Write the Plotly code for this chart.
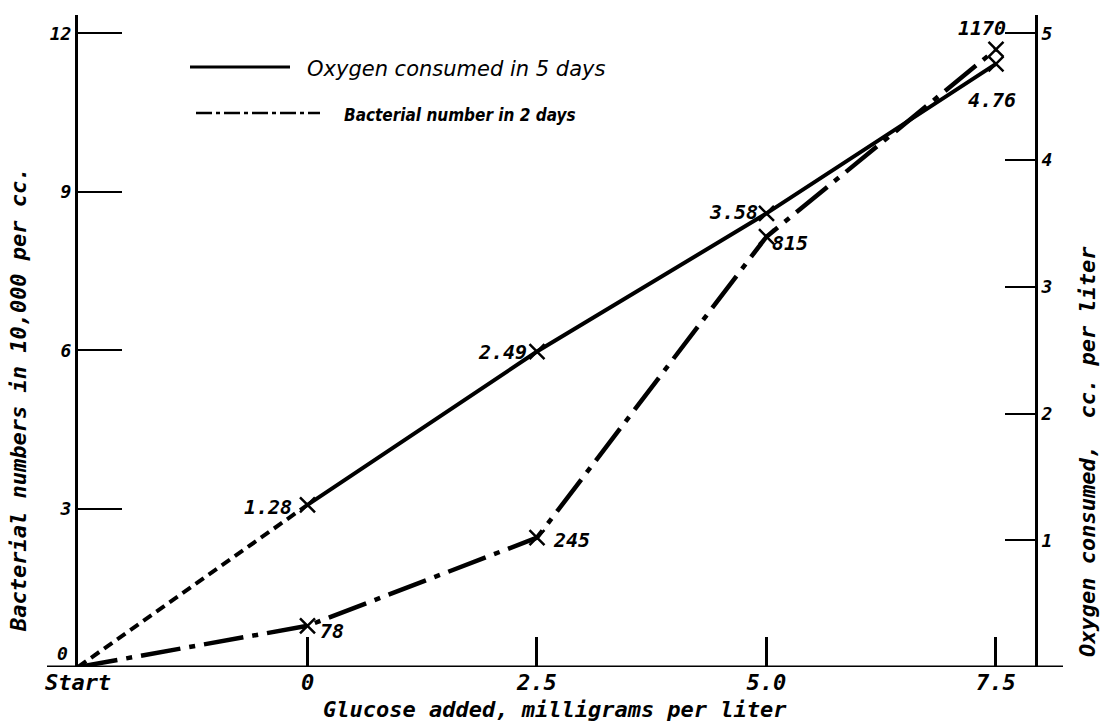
import plotly.graph_objects as go

# Glucose added (mg per liter); "Start" is the unseeded origin
glucose = ["Start", "0", "2.5", "5.0", "7.5"]
# Oxygen consumed in 5 days, cc. per liter
oxygen = [0.0, 1.28, 2.49, 3.58, 4.76]
# Bacterial number in 2 days, in hundreds per cc. (plotted in units of 10,000)
bacteria = [0, 78, 245, 815, 1170]
bacteria_10k = [b / 100 for b in bacteria]

left_ticks = [0, 3, 6, 9, 12]
right_ticks = [1, 2, 3, 4, 5]

MONO = "DejaVu Sans Mono, Liberation Mono, monospace"
HAND = "DejaVu Sans, Verdana, sans-serif"
INK = "black"

W, H = 1105, 722
ML, MR, MT, MB = 78, 70, 15, 55
PW, PH = W - ML - MR, H - MT - MB
Y_TOP = 12.35


def px_x(p):
    return (p - ML) / PW


def px_y(p):
    return (H - MB - p) / PH


fig = go.Figure()

# oxygen: dashed from the start to the first dose, solid afterwards
fig.add_trace(go.Scatter(
    x=glucose[:2], y=oxygen[:2], yaxis="y2", mode="lines",
    line=dict(color=INK, width=4, dash="10px,6px"),
    hoverinfo="skip", cliponaxis=False))
fig.add_trace(go.Scatter(
    x=glucose[1:], y=oxygen[1:], yaxis="y2", mode="lines+markers",
    line=dict(color=INK, width=4),
    marker=dict(symbol="x-thin", size=15, line=dict(color=INK, width=2.5)),
    cliponaxis=False))

# bacterial numbers: dash-dot
fig.add_trace(go.Scatter(
    x=glucose, y=bacteria_10k, mode="lines",
    line=dict(color=INK, width=4.5, dash="40px,9px,6px,9px"),
    cliponaxis=False))
fig.add_trace(go.Scatter(
    x=glucose[1:], y=bacteria_10k[1:], mode="markers",
    marker=dict(symbol="x-thin", size=15, line=dict(color=INK, width=2.5)),
    cliponaxis=False))

label_font = dict(family=MONO, size=20, color=INK, weight="bold", style="italic")

# value labels for the oxygen points (x given as category index)
oxy_place = [None,
             dict(xanchor="right", xshift=-14, yshift=-2),
             dict(xanchor="right", xshift=-8, yshift=0),
             dict(xanchor="right", xshift=-6, yshift=1),
             dict(xanchor="center", xshift=-4, yshift=-36)]
for i, (v, pl) in enumerate(zip(oxygen, oxy_place)):
    if pl is None:
        continue
    fig.add_annotation(x=i, y=v, xref="x", yref="y2", text=f"{v:.2f}",
                       showarrow=False, yanchor="middle", font=label_font, **pl)

# value labels for the bacterial points
bac_place = [None,
             dict(xanchor="left", xshift=10, yshift=-5),
             dict(xanchor="left", xshift=14, yshift=-2),
             dict(xanchor="left", xshift=4, yshift=-6),
             dict(xanchor="center", xshift=-14, yshift=21)]
for i, (b, v, pl) in enumerate(zip(bacteria, bacteria_10k, bac_place)):
    if pl is None:
        continue
    fig.add_annotation(x=i, y=v, xref="x", yref="y", text=f"{b}",
                       showarrow=False, yanchor="middle", font=label_font, **pl)

# key
fig.add_shape(type="line", xref="paper", yref="paper",
              x0=px_x(190), x1=px_x(290), y0=px_y(67), y1=px_y(67),
              line=dict(color=INK, width=3))
fig.add_annotation(xref="paper", yref="paper", x=px_x(305), y=px_y(69),
                   text="Oxygen consumed in 5 days", showarrow=False,
                   xanchor="left", yanchor="middle",
                   font=dict(family=HAND, size=21, color=INK, style="italic"))
fig.add_shape(type="line", xref="paper", yref="paper",
              x0=px_x(196), x1=px_x(320), y0=px_y(113), y1=px_y(113),
              line=dict(color=INK, width=2.5, dash="16px,4px,4px,4px"))
fig.add_annotation(xref="paper", yref="paper", x=px_x(342), y=px_y(115),
                   text="Bacterial number in 2 days", showarrow=False,
                   xanchor="left", yanchor="middle",
                   font=dict(family="DejaVu Sans Condensed, DejaVu Sans", size=17,
                             color=INK, style="italic", weight="bold"))

# base line runs past both vertical axes
fig.add_shape(type="line", xref="paper", yref="y",
              x0=px_x(47), x1=px_x(1063), y0=0, y1=0,
              line=dict(color=INK, width=3))

tick_font_x = dict(family=MONO, size=22, color=INK, weight="bold", style="italic")
tick_font_y = dict(family=MONO, size=18, color=INK, weight="bold", style="italic")

# the zero of the left scale sits just above the base line
fig.add_annotation(xref="paper", yref="y", x=px_x(70), y=left_ticks[0],
                   yshift=14, text=str(left_ticks[0]), showarrow=False,
                   xanchor="right", yanchor="middle", font=tick_font_y)

# axis titles
title_font = dict(family=MONO, size=22, color=INK, weight="bold", style="italic")
fig.add_annotation(xref="paper", yref="paper", x=px_x(555), y=px_y(709),
                   text="Glucose added, milligrams per liter", showarrow=False,
                   xanchor="center", yanchor="middle", font=title_font)
fig.add_annotation(xref="paper", yref="paper", x=px_x(18), y=px_y(400),
                   text="Bacterial numbers in 10,000 per cc.", showarrow=False,
                   textangle=-90, xanchor="center", yanchor="middle", font=title_font)
fig.add_annotation(xref="paper", yref="paper", x=px_x(1087), y=px_y(452),
                   text="Oxygen consumed,  cc. per liter", showarrow=False,
                   textangle=-90, xanchor="center", yanchor="middle", font=title_font)

fig.update_layout(
    width=W, height=H,
    margin=dict(l=ML, r=MR, t=MT, b=MB, pad=0),
    paper_bgcolor="white", plot_bgcolor="white",
    showlegend=False,
    xaxis=dict(type="category", categoryorder="array", categoryarray=glucose,
               range=[0, 4.17], showgrid=False, zeroline=False, showline=False,
               ticks="inside", ticklen=30, tickwidth=3, tickcolor=INK,
               tickfont=tick_font_x, fixedrange=True),
    yaxis=dict(range=[0, Y_TOP], tickvals=left_ticks[1:],
               ticktext=[str(t) for t in left_ticks[1:]],
               showgrid=False, zeroline=False, showline=True, linewidth=3,
               linecolor=INK, ticks="inside", ticklen=44, tickwidth=2,
               tickcolor=INK, tickfont=tick_font_y, fixedrange=True),
    yaxis2=dict(range=[0, Y_TOP * 5 / 12], overlaying="y", side="right",
                anchor="x", tickvals=right_ticks,
                ticktext=[str(t) for t in right_ticks],
                showgrid=False, zeroline=False, showline=True, linewidth=3,
                linecolor=INK, ticks="inside", ticklen=30, tickwidth=2,
                tickcolor=INK, tickfont=tick_font_y, fixedrange=True),
)

fig.write_html("out.html")
